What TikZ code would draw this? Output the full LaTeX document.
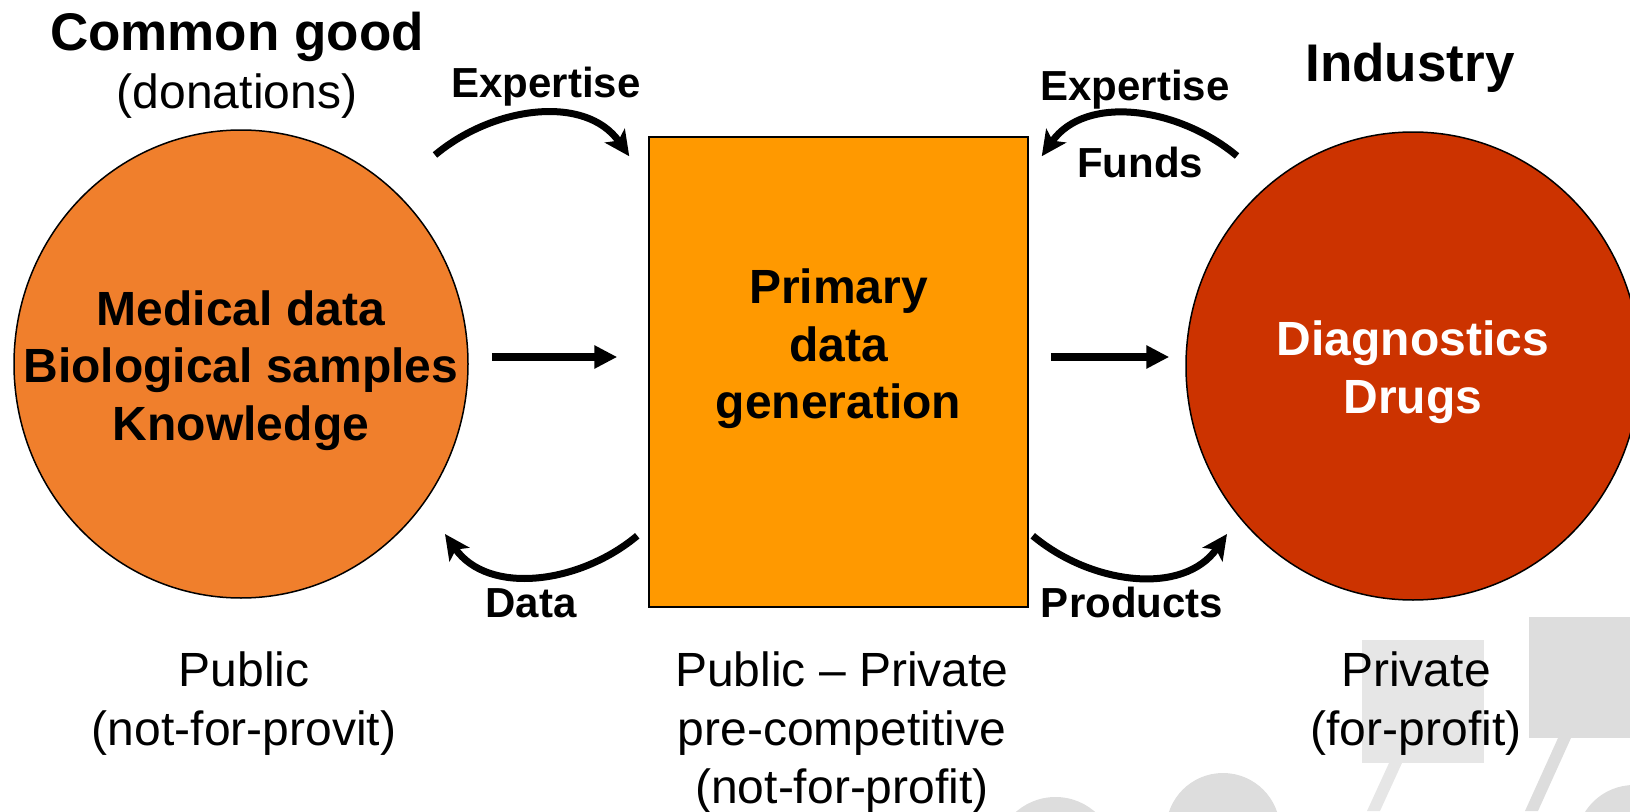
\documentclass[tikz,border=0pt]{standalone}
\usepackage{fontspec}
\setmainfont{Liberation Sans}
\usetikzlibrary{shapes.geometric,arrows.meta}

\definecolor{commonorange}{HTML}{F07F2C}
\definecolor{boxorange}{HTML}{FF9900}
\definecolor{industryred}{HTML}{CC3300}
\definecolor{logolight}{HTML}{E6E6E6}
\definecolor{logodark}{HTML}{DDDDDD}

\tikzset{
  sphere/.style={ellipse, draw=black, line width=0.75pt, minimum width=227pt,
    minimum height=234pt, inner sep=0pt},
  genbox/.style={rectangle, draw=black, line width=0.75pt, fill=boxorange,
    minimum width=189.5pt, minimum height=235pt, inner sep=0pt},
  centertext/.style={align=center, inner sep=0pt,
    font=\fontsize{24}{28.75}\selectfont\bfseries},
  headtext/.style={anchor=base, inner sep=0pt,
    font=\fontsize{26.5}{31}\selectfont\bfseries},
  flowlabel/.style={anchor=base, inner sep=0pt,
    font=\fontsize{21}{25}\selectfont\bfseries},
  sectortext/.style={anchor=north, align=center, inner sep=0pt,
    font=\fontsize{24}{29.25}\selectfont},
  flow/.style={line width=3.75pt, -{Triangle[length=11.5pt,width=11pt]}},
  bentflow/.style={line width=3.5pt, -{Stealth[length=12.5pt,width=12pt,inset=3pt]}}
}

\begin{document}
\begin{tikzpicture}[x=0.5pt,y=0.5pt]
\useasboundingbox (0,0) rectangle (1630,811);
\clip (0,0) rectangle (1630,811);

% faded logo in the lower right corner
\fill[logolight] (1362,48) rectangle (1484,171);
\fill[logodark] (1529,73) rectangle (1640,194);
\fill[logolight] (1389,48) -- (1402,48) -- (1380,0) -- (1367,0) -- cycle;
\fill[logodark] (1558,73) -- (1571,73) -- (1538,0) -- (1525,0) -- cycle;
\fill[logodark] (1055.5,-46) circle (60);
\fill[logodark] (1223,-19) circle (57);
\fill[logodark] (1634,-32) circle (58);

% the three partners
\node[sphere, fill=commonorange] (common) at (241,447) {};
\node[genbox] (primary) at (838.5,439) {};
\node[sphere, fill=industryred] (industry) at (1413,445) {};

\node[centertext] (commontext) at ([yshift=-3.3pt]common.center)
  {Medical data\\Biological samples\\Knowledge};
\node[centertext] (primarytext) at ([yshift=11.5pt]primary.center)
  {Primary\\data\\generation};
\node[centertext, text=white] (industrytext) at ([yshift=-3pt]industry.center)
  {Diagnostics\\Drugs};

\node[headtext] (commonhead) at (237,761) {Common good};
\node[anchor=base, inner sep=0pt, font=\fontsize{24}{28.75}\selectfont]
  (donations) at (237,703) {(donations)};
\node[headtext] (industryhead) at (1410,730) {Industry};

% straight flows
\draw[flow] ([shift={(23,7)}]common.east) -- ([shift={(-31,15)}]primary.west);
\draw[flow] ([shift={(22,15)}]primary.east) -- ([shift={(-16,9)}]industry.west);

% curved flows
\draw[bentflow] ([shift={(194,209)}]common.center) to[out=40,in=125]
  ([shift={(-19,-20)}]primary.north west);
\draw[bentflow] ([shift={(-176,210)}]industry.center) to[out=140,in=55]
  ([shift={(13,-20)}]primary.north east);
\draw[bentflow] ([shift={(-11,72)}]primary.south west) to[out=220,in=305]
  ([shift={(204,-170)}]common.center);
\draw[bentflow] ([shift={(4,72)}]primary.south east) to[out=320,in=235]
  ([shift={(-186,-168)}]industry.center);

\node[flowlabel] (expertisein) at (546,713) {Expertise};
\node[flowlabel] (expertiseind) at (1135,711) {Expertise};
\node[flowlabel] (funds) at (1140,633) {Funds};
\node[flowlabel] (data) at (531,193.5) {Data};
\node[flowlabel] (products) at (1132,193.5) {Products};

% sectors
\node[sectortext] (public) at (244,159.5) {Public\\(not-for-provit)};
\node[sectortext] (publicprivate) at (842,159.5)
  {Public – Private\\pre-competitive\\(not-for-profit)};
\node[sectortext] (private) at (1416,159.5) {Private\\(for-profit)};
\end{tikzpicture}
\end{document}
